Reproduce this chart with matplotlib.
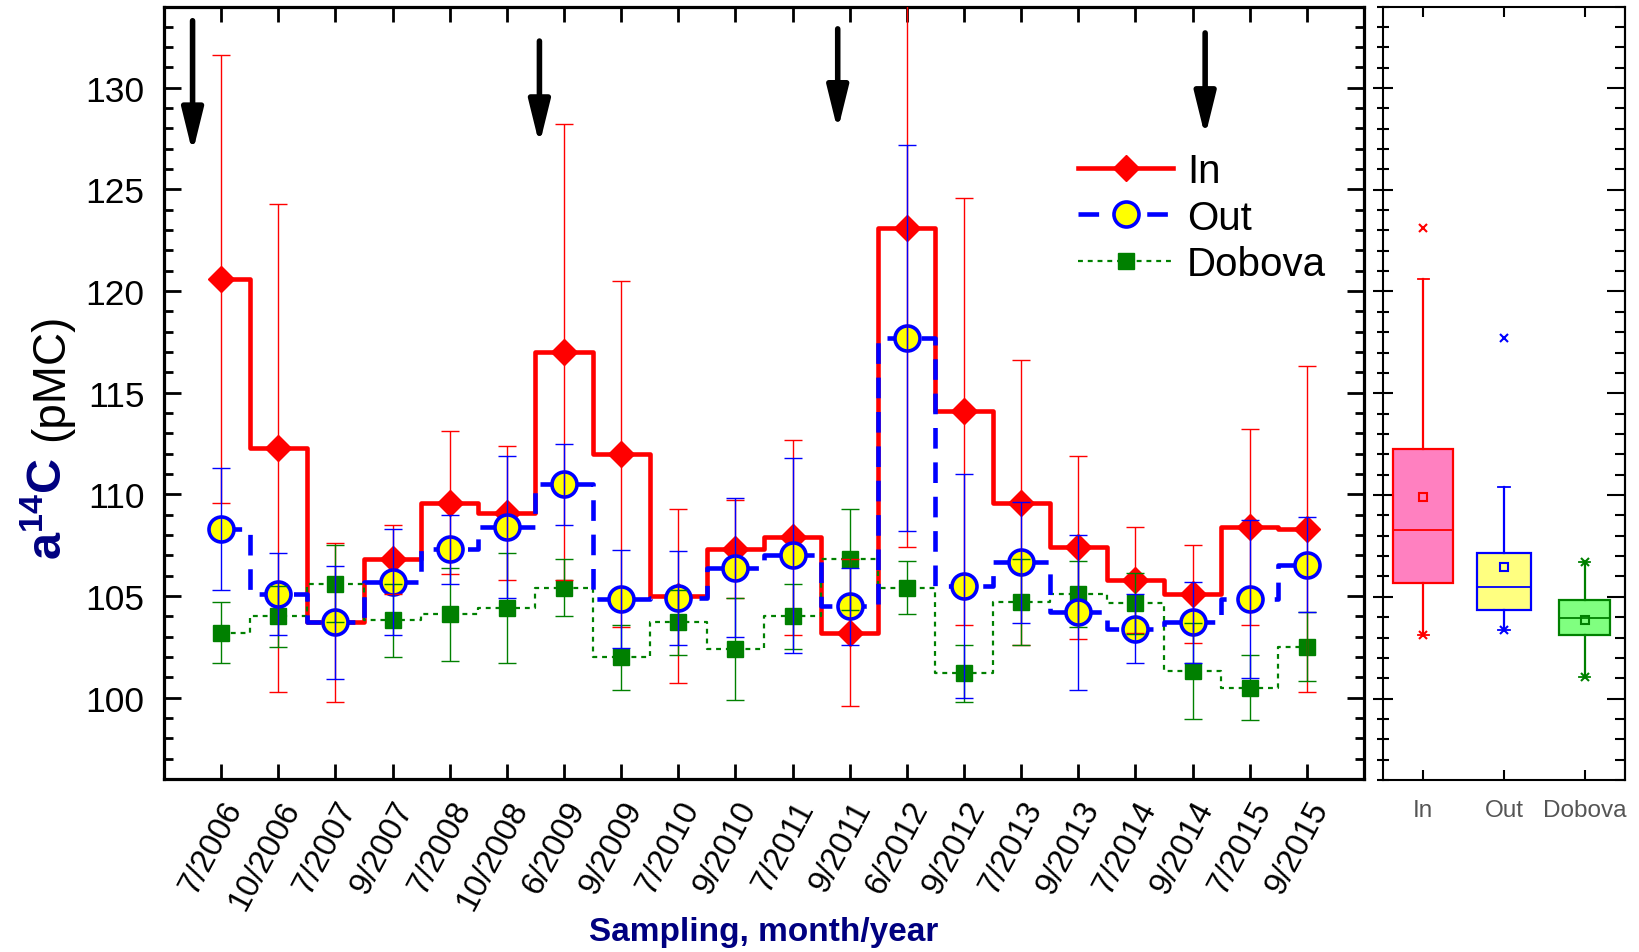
import numpy as np
import matplotlib
matplotlib.use("Agg")
import matplotlib.pyplot as plt
from matplotlib.ticker import MultipleLocator

plt.rcParams['font.family'] = ['Liberation Sans', 'DejaVu Sans']
plt.rcParams['mathtext.fontset'] = 'custom'
plt.rcParams['mathtext.rm'] = 'Liberation Sans'
plt.rcParams['mathtext.bf'] = 'Liberation Sans:bold'

# sampling campaigns
labels = ['7/2006', '10/2006', '7/2007', '9/2007', '7/2008', '10/2008', '6/2009', '9/2009',
          '7/2010', '9/2010', '7/2011', '9/2011', '6/2012', '9/2012', '7/2013', '9/2013',
          '7/2014', '9/2014', '7/2015', '9/2015']

# a14C (pMC) and uncertainties
in_val = [120.6, 112.3, 103.7, 106.8, 109.6, 109.1, 117.0, 112.0, 105.0, 107.3,
          107.9, 103.2, 123.1, 114.1, 109.6, 107.4, 105.8, 105.1, 108.4, 108.3]
in_err = [11.0, 12.0, 3.9, 1.7, 3.5, 3.3, 11.2, 8.5, 4.3, 2.4,
          4.8, 3.6, 15.7, 10.5, 7.0, 4.5, 2.6, 2.4, 4.8, 8.0]
out_val = [108.3, 105.1, 103.7, 105.7, 107.3, 108.4, 110.5, 104.85, 104.9, 106.4,
           107.0, 104.5, 117.7, 105.5, 106.65, 104.2, 103.4, 103.7, 104.85, 106.55]
out_err = [3.0, 2.0, 2.8, 2.6, 1.7, 3.5, 2.0, 2.4, 2.3, 3.4,
           4.8, 1.9, 9.5, 5.5, 3.0, 3.8, 1.7, 2.0, 3.9, 2.35]
dob_val = [103.2, 104.0, 105.6, 103.8, 104.1, 104.4, 105.4, 102.0, 103.7, 102.4,
           104.0, 106.8, 105.4, 101.2, 104.7, 105.1, 104.65, 101.3, 100.5, 102.5]
dob_err = [1.5, 1.5, 1.9, 1.8, 2.3, 2.7, 1.4, 1.6, 1.6, 2.5,
           1.6, 2.5, 1.3, 1.4, 2.1, 1.6, 1.5, 2.35, 1.6, 1.7]

# black arrows (x position, tail, head)
arrow_x = [-0.5, 5.57, 10.79, 17.22]
arrow_top = [133.3, 132.3, 132.9, 132.7]
arrow_tip = [126.8, 127.2, 127.9, 127.6]

# box chart statistics
box_names = ['In', 'Out', 'Dobova']
box_q1 = [105.7, 104.35, 103.1]
box_med = [108.3, 105.5, 103.95]
box_q3 = [112.25, 107.15, 104.85]
box_mean = [109.9, 106.45, 103.85]
box_whislo = [103.1, 103.35, 101.05]
box_whishi = [120.6, 110.4, 106.7]
box_min = [103.1, 103.35, 101.05]
box_max = [123.1, 117.7, 106.7]

x = np.arange(len(labels))

fig = plt.figure(figsize=(16.39, 9.53), dpi=100)
ax = fig.add_axes([164 / 1639, 1 - 780 / 953, 1200 / 1639, 772.5 / 953])

red = '#ff0000'
blue = '#0000ff'
green = '#008000'

l_in, = ax.plot(x, in_val, drawstyle='steps-mid', color=red, lw=3.3, marker='D', ms=13.7,
                mfc=red, mec=red, label='In', zorder=3)
l_dob, = ax.plot(x, dob_val, drawstyle='steps-mid', color=green, lw=1.6, dashes=(2.2, 2.2),
                 marker='s', ms=11.5, mfc=green, mec=green, label='Dobova', zorder=4)
l_out, = ax.plot(x, out_val, drawstyle='steps-mid', color=blue, lw=3.3, dashes=(4.5, 3),
                 marker='o', ms=18, mfc='#ffff00', mec=blue, mew=2.6, label='Out', zorder=5)

ax.errorbar(x, in_val, yerr=in_err, fmt='none', ecolor=red, elinewidth=1.0, capsize=6.5,
            capthick=1.0, zorder=6)
ax.errorbar(x, out_val, yerr=out_err, fmt='none', ecolor=blue, elinewidth=1.0, capsize=6.5,
            capthick=1.0, zorder=7)
ax.errorbar(x, dob_val, yerr=dob_err, fmt='none', ecolor=green, elinewidth=1.0, capsize=6.5,
            capthick=1.0, zorder=6)

for xa, yt, yh in zip(arrow_x, arrow_top, arrow_tip):
    ax.annotate('', xy=(xa, yh), xytext=(xa, yt),
                arrowprops=dict(arrowstyle='-|>,head_length=1.3,head_width=0.32',
                                mutation_scale=20, lw=4, color='black',
                                shrinkA=0, shrinkB=0), zorder=8)

ax.set_xlim(-1, 20)
ax.set_ylim(96, 134)
ax.set_xticks(x)
ax.set_xticklabels(labels, rotation=62, ha='right', va='top', rotation_mode='anchor',
                   fontsize=23.5)
ax.set_yticks([100, 105, 110, 115, 120, 125, 130])
ax.yaxis.set_minor_locator(MultipleLocator(1))
ax.tick_params(axis='y', which='major', direction='in', length=12, width=2, labelsize=25.5,
               left=True, right=True, pad=14)
ax.tick_params(axis='y', which='minor', direction='in', length=6.5, width=2,
               left=True, right=True)
ax.tick_params(axis='x', which='major', direction='in', length=11, width=2,
               top=True, bottom=True, pad=12)
for s in ax.spines.values():
    s.set_linewidth(2.3)

ax.legend(handles=[l_in, l_out, l_dob], loc='upper left', bbox_to_anchor=(0.762, 0.812),
          frameon=False, fontsize=29, borderpad=0, borderaxespad=0, handlelength=2.35,
          handletextpad=0.35, labelspacing=0.22)

ax.set_xlabel('Sampling, month/year', fontsize=24, fontweight='bold', color='#000080',
              labelpad=1)
fig.text(0.030, 1 - 458 / 953, r'$\mathbf{a^{14}C}$', rotation=90, ha='center', va='top',
         fontsize=35, color='#000080')
fig.text(0.031, 1 - 441 / 953, '(pMC)', rotation=90, ha='center', va='bottom',
         fontsize=33, color='black')

# box chart panel
bx = fig.add_axes([1383 / 1639, 1 - 781 / 953, 242 / 1639, 773.5 / 953])
face = ['#ff80c0', '#ffff80', '#80ff80']
edge = [red, blue, green]
widths = [0.74, 0.66, 0.64]
for i in range(3):
    st = dict(q1=box_q1[i], med=box_med[i], q3=box_q3[i], mean=box_mean[i],
              whislo=box_whislo[i], whishi=box_whishi[i], fliers=[])
    bx.bxp([st], positions=[i + 1], widths=widths[i], patch_artist=True, showmeans=True,
           capwidths=0.14,
           boxprops=dict(facecolor=face[i], edgecolor=edge[i], linewidth=1.6),
           medianprops=dict(color=edge[i], linewidth=1.3),
           whiskerprops=dict(color=edge[i], linewidth=1.6),
           capprops=dict(color=edge[i], linewidth=1.3),
           meanprops=dict(marker='s', markersize=6, markerfacecolor='none',
                          markeredgecolor=edge[i], markeredgewidth=1.5))
    bx.plot([i + 1, i + 1], [box_min[i], box_max[i]], ls='none', marker='x', ms=6,
            mew=1.5, color=edge[i], zorder=5)

bx.set_xlim(0.5, 3.5)
bx.set_ylim(96, 134)
bx.set_xticks([1, 2, 3])
bx.set_xticklabels(box_names, fontsize=17.5, color='#555555')
bx.yaxis.set_major_locator(MultipleLocator(5))
bx.yaxis.set_minor_locator(MultipleLocator(1))
bx.tick_params(axis='y', which='both', labelleft=False)
bx.tick_params(axis='y', which='major', direction='inout', length=14, width=1.5,
               left=True, right=False)
bx.tick_params(axis='y', which='minor', direction='inout', length=8, width=1.5,
               left=True, right=False)
bx2 = bx.secondary_yaxis('right')
bx2.yaxis.set_major_locator(MultipleLocator(5))
bx2.yaxis.set_minor_locator(MultipleLocator(1))
bx2.tick_params(axis='y', which='major', direction='in', length=13, width=1.5, labelright=False)
bx2.tick_params(axis='y', which='minor', direction='in', length=7, width=1.5, labelright=False)
bx2.spines['right'].set_linewidth(1.5)
bx.tick_params(axis='x', direction='in', length=7, width=1.5, top=True, bottom=True, pad=14)
for s in bx.spines.values():
    s.set_linewidth(1.5)

fig.savefig('out.png', dpi=100)
